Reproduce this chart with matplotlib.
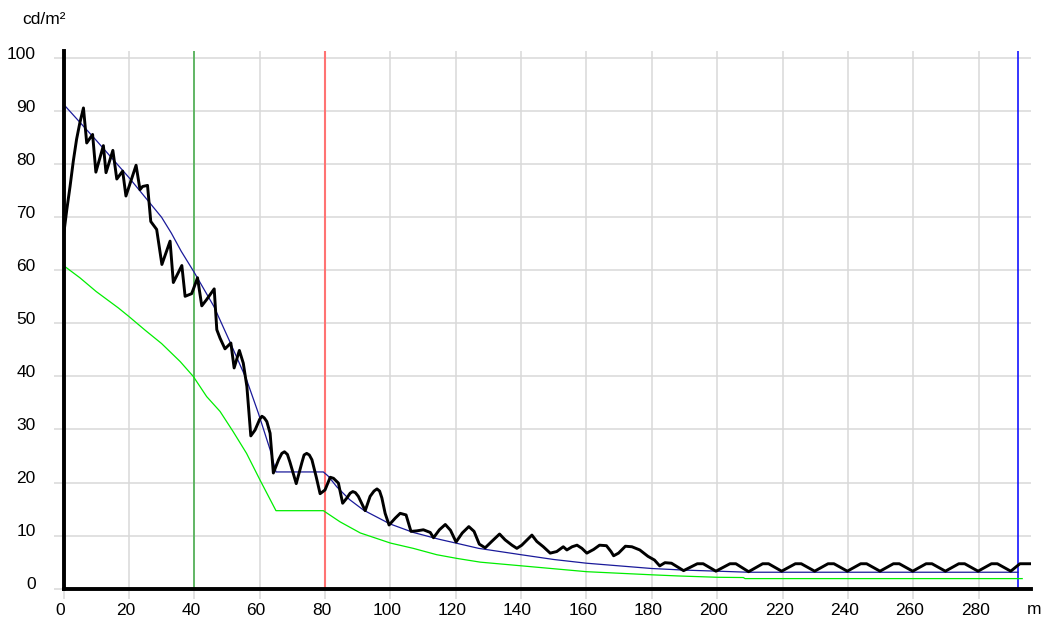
import matplotlib
matplotlib.use("Agg")
import matplotlib.pyplot as plt
import matplotlib.transforms as mtransforms

plt.rcParams['font.family'] = ['Liberation Sans', 'DejaVu Sans']

# measured luminance (black)
meas_x = [0, 1.0, 2.0, 3.0, 4.0, 5.0, 6.1, 7.1, 8.9, 9.9, 12.2, 13.0, 15.1, 16.3, 18.1, 19.1,
          22.2, 23.4, 24.2, 25.7, 26.7, 28.5, 30.1, 32.6, 33.6, 36.2, 37.2, 39.2, 39.7, 41.0,
          42.3, 43.8, 46.1, 46.9, 47.9, 49.4, 51.2, 52.2, 53.8, 55.0, 56.1, 57.3, 58.6, 60.0, 60.7,
          61.4, 62.2, 63.2, 64.2, 65.8, 66.8, 67.6, 68.5, 69.3, 71.2, 72.9, 73.6, 74.4, 75.2, 76.0,
          77.3, 78.5, 80.0, 81.6, 82.6, 84.1, 85.4, 86.7, 87.7, 88.5, 89.3, 90.2, 92.3, 93.8, 95.0,
          95.9, 96.7, 97.4, 98.4, 99.6, 101.5, 103.0,
          104.8, 106.3, 108.1, 110.1, 112.2, 113.2, 115.0, 116.8, 118.4, 120.1, 122.0, 124.0,
          125.6, 127.2, 129.0, 131.0, 133.4, 135.1, 137.2, 138.7, 140.2, 143.3, 144.8, 146.8,
          148.9, 150.9, 152.9, 154.0, 155.6, 157.1, 158.6, 160.1, 162.2, 164.0, 166.1, 167.5,
          168.3, 169.8, 171.9, 173.9, 176.3, 178.8, 180.8, 182.4, 184.0, 186.0, 189.7,
          193.9, 195.7, 199.6, 203.9, 205.7, 209.6, 213.9, 215.7, 219.7, 223.9, 225.7, 229.8,
          233.9, 235.7, 239.8, 243.9, 245.7, 249.8, 253.9, 255.7, 259.8, 263.9, 265.7, 269.8,
          273.9, 275.7, 279.8, 283.9, 285.7, 289.8, 292.6, 296.0]
meas_y = [66.5, 71.4, 75.8, 80.6, 84.7, 87.8, 90.6, 84.0, 85.6, 78.5, 83.5, 78.4, 82.6, 77.2, 78.7, 74.0,
          79.8, 75.2, 75.8, 76.0, 69.2, 67.7, 61.1, 65.5, 57.7, 60.9, 55.1, 55.6, 56.4, 58.6,
          53.3, 54.5, 56.5, 48.8, 47.2, 45.2, 46.3, 41.6, 44.9, 42.5, 38.1, 28.8, 29.9, 31.9, 32.5,
          32.2, 31.5, 29.3, 21.8, 24.3, 25.5, 25.8, 25.3, 23.8, 19.8, 23.7, 25.2, 25.5, 25.2, 24.3,
          21.1, 17.9, 18.6, 21.0, 20.8, 19.9, 16.1, 17.1, 18.0, 18.3, 18.1, 17.4, 14.7, 17.4, 18.4,
          18.8, 18.4, 17.1, 14.2, 12.0, 13.3, 14.2,
          13.9, 10.8, 10.9, 11.1, 10.6, 9.6, 11.1, 12.1, 11.0, 8.8, 10.5, 11.7,
          10.8, 8.4, 7.7, 8.9, 10.3, 9.2, 8.2, 7.6, 8.2, 10.1, 8.9, 7.9,
          6.7, 7.0, 7.9, 7.3, 7.9, 8.2, 7.6, 6.7, 7.4, 8.2, 8.1, 7.0,
          6.2, 6.7, 8.0, 7.9, 7.3, 6.1, 5.4, 4.3, 4.9, 4.8, 3.4,
          4.7, 4.7, 3.3, 4.7, 4.7, 3.2, 4.7, 4.7, 3.3, 4.7, 4.7, 3.3,
          4.7, 4.7, 3.3, 4.7, 4.7, 3.3, 4.7, 4.7, 3.3, 4.7, 4.7, 3.3,
          4.7, 4.7, 3.3, 4.7, 4.7, 3.3, 4.7, 4.7]

# smooth reference curve (blue)
ref_x = [0, 10, 20, 30, 33, 36, 40, 46, 51, 56, 59.6, 63.2, 65, 79.5, 81, 83.6, 87.5, 91.8,
         99.9, 107, 115, 120, 127, 140, 150, 160, 170, 180, 190, 200, 209.5, 292]
ref_y = [91.3, 84.5, 77.5, 70.0, 67.0, 63.6, 59.6, 53.2, 46.4, 39.4, 33.1, 26.2, 22.0, 22.0, 21.2,
         19.2, 16.8, 14.8, 12.2, 10.6, 9.3, 8.6, 7.6, 6.4, 5.5, 4.8, 4.3, 3.8, 3.5, 3.3, 3.1, 3.1]

# lower limit curve (green)
low_x = [0, 5, 10, 16.8, 20, 25, 30, 35.7, 39.7, 43.8, 47.9, 51.9, 56.0, 60.1, 65.0, 79.5,
         84.6, 90.8, 100, 107, 114.2, 120.4, 127.5, 140.2, 160.1, 180.5, 188, 200, 208, 208.5, 293.3]
low_y = [60.9, 58.6, 56.0, 52.9, 51.3, 48.7, 46.2, 42.8, 40.0, 36.2, 33.4, 29.6, 25.5, 20.5, 14.7, 14.7,
         12.6, 10.5, 8.6, 7.6, 6.4, 5.7, 5.0, 4.3, 3.2, 2.6, 2.4, 2.15, 2.1, 1.9, 1.9]

xticks = list(range(0, 281, 20))
yticks = list(range(0, 101, 10))

fig = plt.figure(figsize=(10.48, 6.24), dpi=100)
ax = fig.add_axes([0.0606, 0.0566, 0.9232, 0.8614])

ax.set_xlim(0, 296)
ax.set_ylim(0, 101.3)
ax.set_xticks(xticks)
ax.set_yticks(yticks)
ax.grid(True, color='#d9d9d9', linewidth=1.1)
ax.set_axisbelow(True)
ax.tick_params(axis='both', color='#d9d9d9', width=1.1, length=7, labelsize=12.5, labelcolor='black')
ax.tick_params(axis='y', pad=13)
ax.tick_params(axis='x', pad=3.5)

for s in ['top', 'right']:
    ax.spines[s].set_visible(False)
for s in ['left', 'bottom']:
    ax.spines[s].set_linewidth(2.8)
    ax.spines[s].set_color('black')
    ax.spines[s].set_zorder(5)

# shift tick labels like the reference
dy = mtransforms.ScaledTranslation(0, 0.055, fig.dpi_scale_trans)
for lab in ax.get_yticklabels():
    lab.set_transform(lab.get_transform() + dy)
dx = mtransforms.ScaledTranslation(-0.035, 0, fig.dpi_scale_trans)
for lab in ax.get_xticklabels():
    lab.set_transform(lab.get_transform() + dx)

ax.axvline(40, color='#4caf50', linewidth=1.2, zorder=2)
ax.axvline(80, color='#ff7373', linewidth=1.5, zorder=2)
ax.axvline(292, color='#0000ff', linewidth=1.1, zorder=2)

ax.plot(low_x, low_y, color='#00ee00', linewidth=0.9, zorder=3)
ax.plot(ref_x, ref_y, color='#1a1a9a', linewidth=0.9, zorder=3)
ax.plot(meas_x, meas_y, color='black', linewidth=2.1, zorder=4)

fig.text(22 / 1048, 1 - 20 / 624, 'cd/m²', ha='left', va='center', fontsize=12.5)
fig.text(1034 / 1048, 1 - 609 / 624, 'm', ha='center', va='center', fontsize=12.5)

fig.savefig('out.png', dpi=100)
